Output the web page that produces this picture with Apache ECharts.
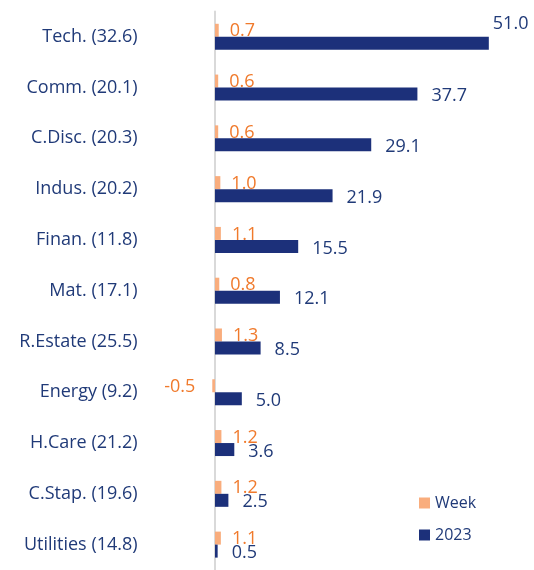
<!DOCTYPE html>
<html>
<head>
<meta charset="utf-8">
<script src="https://cdn.jsdelivr.net/npm/echarts@6/dist/echarts.min.js"></script>
<style>
  html, body { margin: 0; padding: 0; background: #fff; }
  #chart { width: 534px; height: 570px; }
</style>
</head>
<body>
<div id="chart"></div>
<script>
const sectors = ["Tech. (32.6)", "Comm. (20.1)", "C.Disc. (20.3)", "Indus. (20.2)", "Finan. (11.8)",
  "Mat. (17.1)", "R.Estate (25.5)", "Energy (9.2)", "H.Care (21.2)", "C.Stap. (19.6)", "Utilities (14.8)"];
const weekValues = [0.7, 0.6, 0.6, 1.0, 1.1, 0.8, 1.3, -0.5, 1.2, 1.2, 1.1];
const ytdValues = [51.0, 37.7, 29.1, 21.9, 15.5, 12.1, 8.5, 5.0, 3.6, 2.5, 0.5];

const FONT = "Open Sans";
const NAVY = "#1c307a";
const TEXT_NAVY = "#203a78";

// negative week value gets its label on the left side
const weekData = weekValues.map(function (v) {
  if (v < 0) {
    return { value: v, label: { position: "left", distance: 17 } };
  }
  return v;
});

// first 2023 label sits above the bar end like the original
const ytdData = ytdValues.map(function (v, i) {
  if (i === 0) {
    return { value: v, label: { offset: [-10, -19] } };
  }
  return v;
});

const chart = echarts.init(document.getElementById("chart"));
chart.setOption({
  animation: false,
  textStyle: { fontFamily: FONT },
  grid: { left: 209.6, right: 23.7, top: 11.4, bottom: -5.6 },
  legend: {
    orient: "vertical",
    left: 414,
    top: 490,
    itemWidth: 11,
    itemHeight: 11,
    itemGap: 16,
    icon: "rect",
    textStyle: { color: TEXT_NAVY, fontSize: 16, fontFamily: FONT },
    data: ["Week", "2023"]
  },
  xAxis: {
    type: "value",
    min: -1,
    max: 55,
    show: false
  },
  yAxis: {
    type: "category",
    inverse: true,
    data: sectors,
    axisLine: { onZero: true, lineStyle: { color: "#d9d9d9", width: 2 } },
    axisTick: { show: false },
    axisLabel: { color: TEXT_NAVY, fontSize: 18, margin: 72, fontFamily: FONT }
  },
  series: [
    {
      name: "Week",
      type: "bar",
      data: weekData,
      barWidth: 13,
      barGap: "0%",
      itemStyle: { color: "#f9ad7d" },
      label: {
        show: true,
        position: "right",
        distance: 11,
        offset: [0, 1],
        color: "#f07a2c",
        fontSize: 18,
        fontFamily: FONT,
        formatter: function (p) { return p.value.toFixed(1); }
      }
    },
    {
      name: "2023",
      type: "bar",
      data: ytdData,
      barWidth: 13,
      barGap: "0%",
      itemStyle: { color: NAVY },
      label: {
        show: true,
        position: "right",
        distance: 14,
        offset: [0, 2],
        color: TEXT_NAVY,
        fontSize: 18,
        fontFamily: FONT,
        formatter: function (p) { return p.value.toFixed(1); }
      }
    }
  ]
});
</script>
</body>
</html>
